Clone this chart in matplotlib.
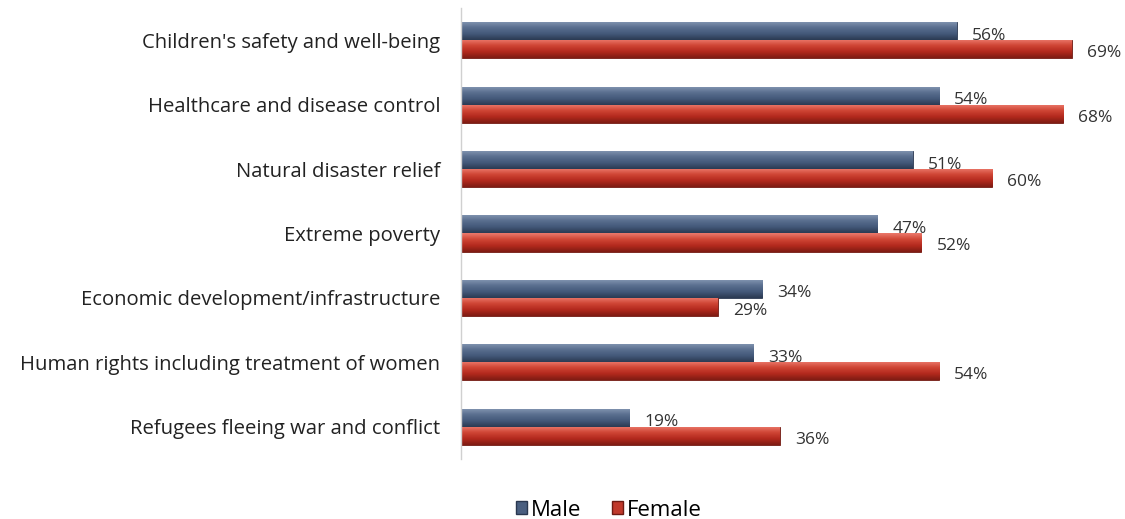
import matplotlib
matplotlib.use("Agg")
import matplotlib.pyplot as plt
import numpy as np
from matplotlib.colors import LinearSegmentedColormap
from matplotlib.patches import Patch

categories = [
    "Children's safety and well-being",
    "Healthcare and disease control",
    "Natural disaster relief",
    "Extreme poverty",
    "Economic development/infrastructure",
    "Human rights including treatment of women",
    "Refugees fleeing war and conflict",
]
male = [56, 54, 51, 47, 34, 33, 19]
female = [69, 68, 60, 52, 29, 54, 36]
series_names = ["Male", "Female"]

plt.rcParams['font.family'] = ['Open Sans', 'DejaVu Sans']

fig = plt.figure(figsize=(11.25, 5.19), dpi=100)
ax = fig.add_axes([461/1125, 1-459/519, 1-461/1125, 451/519])

n = len(categories)
y = np.arange(n)
h = 0.28

male_cmap = LinearSegmentedColormap.from_list("m", ["#8597b3", "#5a6f8f", "#44597a", "#2b3a52"])
fem_cmap = LinearSegmentedColormap.from_list("f", ["#ec7a6c", "#cf4535", "#b3291d", "#7e1c13"])

grad = np.linspace(0, 1, 64).reshape(-1, 1)

def grad_bars(ys, vals, cmap, edge):
    bars = ax.barh(ys, vals, height=h, color=cmap(0.5), edgecolor=edge, linewidth=0.6, zorder=2)
    for b in bars:
        x0, y0 = b.get_x(), b.get_y()
        w, hh = b.get_width(), b.get_height()
        im = ax.imshow(grad, cmap=cmap, aspect='auto', extent=[x0, x0 + w, y0 + hh, y0],
                       origin='upper', zorder=2.5, interpolation='bicubic')
        im.set_clip_path(b)
    return bars

mb = grad_bars(y - h/2, male, male_cmap, "#2a3850")
fb = grad_bars(y + h/2, female, fem_cmap, "#6e1a12")

for yi, v in zip(y, male):
    ax.text(v + 1.7, yi - h/2 + 0.07, f"{v}%", va='center', ha='left', fontsize=12.5, color='#333333', zorder=4)
for yi, v in zip(y, female):
    ax.text(v + 1.7, yi + h/2 + 0.06, f"{v}%", va='center', ha='left', fontsize=12.5, color='#333333', zorder=4)

ax.set_xlim(0, 75)
ax.set_ylim(n - 0.5, -0.5)
ax.set_yticks(y)
ax.set_yticklabels(categories, fontsize=14.6, color='#222222')
ax.tick_params(axis='y', length=0, pad=15)
ax.set_xticks([])
for s in ['top', 'right', 'bottom']:
    ax.spines[s].set_visible(False)
ax.spines['left'].set_color('#d0d0d0')
ax.spines['left'].set_linewidth(1)

handles = [Patch(facecolor="#4a5f80", edgecolor="#2a3850"),
           Patch(facecolor="#c0392b", edgecolor="#6e1a12")]
fig.legend(handles, series_names, loc='center', bbox_to_anchor=(609/1125, 1-510/519),
           ncol=2, frameon=False, fontsize=16, handlelength=0.5, handleheight=0.5,
           handletextpad=0.15, columnspacing=1.4, borderpad=0)

fig.savefig("out.png", dpi=100)
